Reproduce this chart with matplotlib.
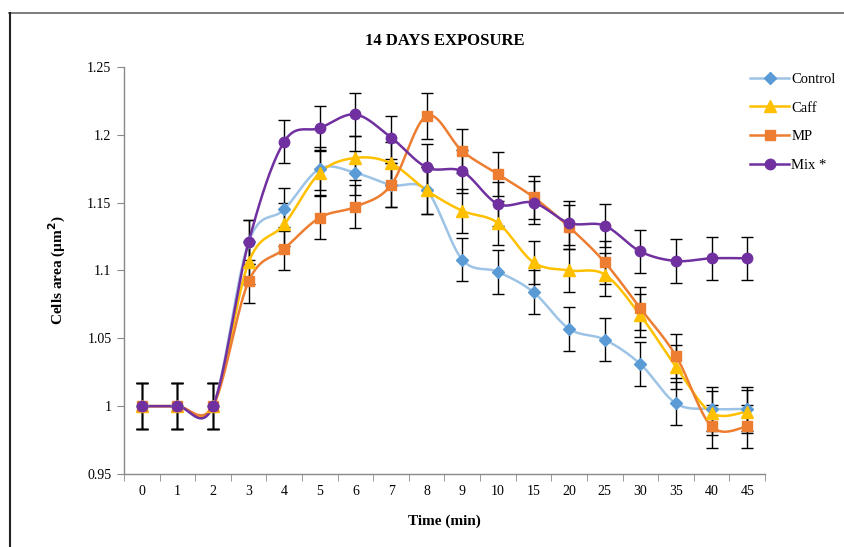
import numpy as np
import matplotlib
matplotlib.use('Agg')
import matplotlib.pyplot as plt
from matplotlib.lines import Line2D

times = ['0', '1', '2', '3', '4', '5', '6', '7', '8', '9', '10',
         '15', '20', '25', '30', '35', '40', '45']

control = [1.0, 1.0, 1.0, 1.121, 1.145, 1.175, 1.172, 1.163, 1.159, 1.108,
           1.099, 1.084, 1.057, 1.049, 1.031, 1.002, 0.998, 0.998]
caff = [1.0, 1.0, 1.0, 1.106, 1.134, 1.172, 1.183, 1.179, 1.159, 1.144,
        1.135, 1.106, 1.100, 1.097, 1.067, 1.029, 0.995, 0.996]
mp = [1.0, 1.0, 1.0, 1.092, 1.116, 1.139, 1.147, 1.163, 1.214, 1.188,
      1.171, 1.154, 1.132, 1.106, 1.072, 1.037, 0.985, 0.985]
mix = [1.0, 1.0, 1.0, 1.121, 1.195, 1.205, 1.215, 1.198, 1.176, 1.173,
       1.149, 1.150, 1.135, 1.133, 1.114, 1.107, 1.109, 1.109]

err = [0.017, 0.017, 0.017, 0.016, 0.016, 0.016, 0.016, 0.016, 0.017, 0.016,
       0.016, 0.016, 0.016, 0.016, 0.016, 0.016, 0.016, 0.016]

series = [
    ('Control', control, '#9DC3E6', '#5B9BD5', 'D', 6),
    ('Caff', caff, '#FFC000', '#FFC000', '^', 8),
    ('MP', mp, '#ED7D31', '#ED7D31', 's', 7),
    ('Mix *', mix, '#7030A0', '#7030A0', 'o', 7.5),
]


def smooth(y, n=20):
    # catmull-rom curve through the points, like excel "smoothed line"
    y = np.asarray(y, dtype=float)
    x = np.arange(len(y), dtype=float)
    px = np.concatenate([[x[0]], x, [x[-1]]])
    py = np.concatenate([[y[0]], y, [y[-1]]])
    xs, ys = [], []
    t = np.linspace(0, 1, n, endpoint=False)
    for i in range(1, len(px) - 2):
        for p, out in ((px, xs), (py, ys)):
            p0, p1, p2, p3 = p[i - 1], p[i], p[i + 1], p[i + 2]
            c1 = p1 + (p2 - p0) / 6
            c2 = p2 - (p3 - p1) / 6
            out.extend((1 - t) ** 3 * p1 + 3 * (1 - t) ** 2 * t * c1
                       + 3 * (1 - t) * t ** 2 * c2 + t ** 3 * p2)
    xs.append(x[-1])
    ys.append(y[-1])
    return np.array(xs), np.array(ys)


plt.rcParams['font.family'] = ['Liberation Serif', 'DejaVu Serif']

fig = plt.figure(figsize=(8.44, 5.47), dpi=100)
ax = fig.add_axes([0.1469, 0.1335, 0.7595, 0.744])

# outer frame (top and left)
fig.add_artist(Line2D([9 / 844, 1], [1 - 13 / 547] * 2, color='#666666', lw=1.2))
fig.add_artist(Line2D([9.5 / 844] * 2, [0, 1 - 13 / 547], color='#222222', lw=1.5))

x = np.arange(len(times))
handles = []
for name, vals, lc, mc, mk, ms in series:
    ax.errorbar(x, vals, yerr=err, fmt='none', ecolor='black', elinewidth=1.0,
                capsize=4, capthick=1.0, zorder=2)
for name, vals, lc, mc, mk, ms in series:
    sx, sy = smooth(vals)
    ax.plot(sx, sy, color=lc, lw=1.8, zorder=3)
    ax.plot(x, vals, linestyle='none', marker=mk, markersize=ms,
            color=mc, zorder=4)
    handles.append(Line2D([], [], color=lc, lw=1.8, marker=mk, markersize=ms,
                          markerfacecolor=mc, markeredgecolor=mc))

ax.set_xlim(-0.5, len(times) - 0.5)
ax.set_ylim(0.95, 1.25)
ax.set_yticks([0.95, 1.0, 1.05, 1.1, 1.15, 1.2, 1.25])
ax.set_yticklabels(['0.95', '1', '1.05', '1.1', '1.15', '1.2', '1.25'])
ax.set_xticks(x)
ax.set_xticklabels(times)
ax.set_xticks(np.arange(-0.5, len(times)), minor=True)
ax.tick_params(axis='x', which='major', length=0, pad=8, labelsize=10)
ax.tick_params(axis='x', which='minor', length=5, color='#898989', direction='out')
ax.tick_params(axis='y', length=5, color='#898989', labelsize=10, pad=4)

for s in ['top', 'right']:
    ax.spines[s].set_visible(False)
for s in ['left', 'bottom']:
    ax.spines[s].set_color('#898989')
    ax.spines[s].set_linewidth(1.0)

ax.set_title('14 DAYS EXPOSURE', fontsize=12, fontweight='bold', pad=16)
ax.set_xlabel('Time (min)', fontsize=11, fontweight='bold', labelpad=12)
ax.set_ylabel('Cells area (µm$^{\\mathbf{2}}$)', fontsize=11, fontweight='bold', labelpad=14)

fig.legend(handles, [s[0] for s in series], loc='upper left',
           bbox_to_anchor=(744 / 844, 1 - 67 / 547), frameon=False,
           fontsize=10.5, handlelength=2.7, labelspacing=1.05, handletextpad=0.15,
           borderaxespad=0)

fig.savefig('out.png', dpi=100)
